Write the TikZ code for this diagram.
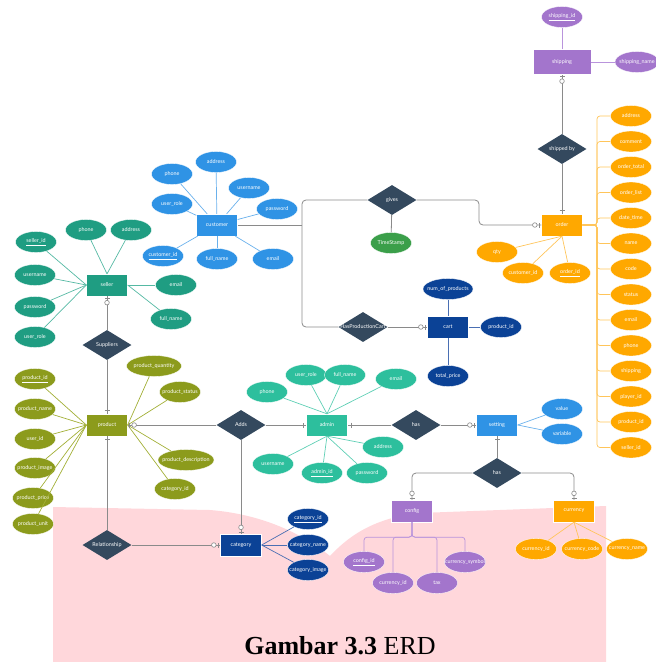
\documentclass[tikz,border=0pt]{standalone}
\usepackage{fontspec}
\setmainfont{Lato}
\newfontfamily\capfont{Liberation Serif}
\usetikzlibrary{shapes.geometric,decorations.markings}

\definecolor{dia}{HTML}{34495E}
\definecolor{linegray}{HTML}{8A8A8A}
\definecolor{purp}{HTML}{A375CC}
\definecolor{purpl}{HTML}{B994DC}
\definecolor{orng}{HTML}{FFA800}
\definecolor{orngl}{HTML}{FFC55A}
\definecolor{blue}{HTML}{2F93E5}
\definecolor{bluel}{HTML}{6AB1EC}
\definecolor{seltl}{HTML}{1F9D82}
\definecolor{seltll}{HTML}{55B9A3}
\definecolor{admtl}{HTML}{2DBF9D}
\definecolor{admtll}{HTML}{5FCFB5}
\definecolor{olive}{HTML}{8C9B1C}
\definecolor{olivel}{HTML}{A2AF36}
\definecolor{navy}{HTML}{0B4296}
\definecolor{navyl}{HTML}{4A6FB3}
\definecolor{tsgreen}{HTML}{3B9F4A}
\definecolor{pinkbg}{HTML}{FFD7DB}

\tikzset{
    lbl/.style={text=white, font=\fontsize{5.4}{6}\selectfont},
    ent/.style={lbl, rectangle, fill=#1, draw=white, line width=0.3pt, minimum width=41pt, minimum height=22pt, inner sep=0pt},
    att/.style={lbl, ellipse, fill=#1, draw=white, line width=0.3pt, minimum width=41pt, minimum height=21pt, inner xsep=-20pt, inner ysep=0pt},
    rel/.style={lbl, diamond, fill=dia, aspect=1.6, minimum width=49pt, minimum height=30pt, inner sep=0pt},
    conn/.style={draw=linegray, line width=0.8pt},
    al/.style={draw=#1, line width=0.7pt},
    one/.style={postaction={decorate, decoration={markings,
        mark=at position -3.5pt with {\draw[linegray, line width=0.6pt] (0pt,-2.5pt) -- (0pt,2.5pt);}}}},
    zo/.style={postaction={decorate, decoration={markings,
        mark=at position -6.5pt with {\draw[linegray, line width=0.6pt, fill=white] (0pt,0pt) circle (2.3pt);},
        mark=at position -2pt with {\draw[linegray, line width=0.6pt] (0pt,-2.5pt) -- (0pt,2.5pt);}}}}
}

\begin{document}
\begin{tikzpicture}[x=1pt,y=-1pt]
    \useasboundingbox (0,0) rectangle (656,662);
    \fill[pinkbg] (53,507) -- (210,510) .. controls (260,514) and (300,532) .. (330,556)
        .. controls (345,540) and (370,518) .. (420,513) -- (606,506) -- (606,662) -- (53,662) -- cycle;

    % entities
    \node[ent=purp, minimum width=58pt, minimum height=25pt] (shipping) at (562,62) {shipping};
    \node[ent=orng] (order) at (562,225) {order};
    \node[ent=blue] (customer) at (217,225) {customer};
    \node[ent=seltl] (seller) at (107,285) {seller};
    \node[ent=navy] (cart) at (448,327) {cart};
    \node[ent=olive] (product) at (107,425) {product};
    \node[ent=admtl] (admin) at (327,425) {admin};
    \node[ent=blue] (setting) at (497,425) {setting};
    \node[ent=purp] (config) at (412,511) {config};
    \node[ent=orng] (currency) at (574,511) {currency};
    \node[ent=navy] (category) at (241,545) {category};

    % relationships
    \node[rel] (shippedby) at (562,149) {shipped by};
    \node[rel] (gives) at (392,200) {gives};
    \node[rel] (hpc) at (363,327) {\makebox[0pt]{HasProductionCart}};
    \node[rel] (suppliers) at (107,345) {Suppliers};
    \node[rel] (adds) at (241,425) {Adds};
    \node[rel] (hasA) at (416,425) {has};
    \node[rel] (hasB) at (497,473) {has};
    \node[rel] (relship) at (107,545) {\makebox[0pt]{Relationship}};
    \node[att=tsgreen] (ts) at (391,243) {TimeStamp};

    % shipping
    \node[att=purp] (shipid) at (562,17) {\underline{shipping\_id}};
    \node[att=purp, minimum width=44pt] (shipname) at (637,62) {shipping\_name};
    \draw[al=purpl] (shipping) -- (shipid);
    \draw[al=purpl] (shipping) -- (shipname);

    % order
    \foreach \n/\t [count=\i from 0] in {ad/address,cm/comment,ot/order\_total,ol/order\_list,dt/date\_time,nm/name,cd/code,st/status,em/email,ph/phone,sh/shipping,pl/player\_id,pr/product\_id,sl/seller\_id}
        \node[att=orng] (o-\n) at (631,116+25.5*\i) {\t};
    \foreach \n in {ad,cm,ot,ol,dt,nm,cd,st,em,ph,sh,pl,pr,sl}
        \draw[al=orngl, rounded corners=3pt] (order.east) -- (597,225) |- (o-\n.west);
    \node[att=orng] (qty) at (497,252) {qty};
    \node[att=orng] (ocust) at (523,273) {customer\_id};
    \node[att=orng] (oid) at (570,273) {\underline{order\_id}};
    \foreach \n in {qty,ocust,oid} \draw[al=orngl] (order.south) -- (\n);

    % customer
    \foreach \n/\t/\x/\y in {ad/address/216/162,ph/phone/172/174,un/username/249/188,ur/user\_role/172/204,pw/password/277/209,id/\underline{customer\_id}/163/256,fn/full\_name/217/259,em/email/273/259}
        {\node[att=blue] (c-\n) at (\x,\y) {\t};
         \draw[al=bluel] (customer) -- (c-\n);}

    % seller
    \foreach \n/\t/\x/\y/\a in {id/\underline{seller\_id}/36/242/west,un/username/35/275/west,pw/password/35/307/west,ur/user\_role/35/337/west,ph/phone/86/230/north,ad/address/131/230/north,em/email/176/285/east,fn/full\_name/171/319/east}
        {\node[att=seltl] (s-\n) at (\x,\y) {\t};
         \draw[al=seltll] (seller.\a) -- (s-\n);}

    % cart
    \node[att=navy, minimum width=50pt] (numprod) at (448,289) {num\_of\_products};
    \node[att=navy] (totprice) at (448,376) {total\_price};
    \node[att=navy] (cprod) at (501,327) {product\_id};
    \foreach \n in {numprod,totprice,cprod} \draw[al=navyl] (cart) -- (\n);

    % product
    \foreach \n/\t/\x/\y/\a in {id/\underline{product\_id}/35/379/west,nm/product\_name/35/409/west,ui/user\_id/35/439/west,im/product\_image/35/468/west,pr/product\_price/33/498/west,un/product\_unit/33/524/west,st/product\_status/180/392/east,ci/category\_id/175/489/east}
        {\node[att=olive] (p-\n) at (\x,\y) {\t};
         \draw[al=olivel] (product.\a) -- (p-\n);}
    \node[att=olive, minimum width=55pt] (p-qt) at (154,366) {product\_quantity};
    \node[att=olive, minimum width=56pt] (p-ds) at (186,460) {product\_description};
    \draw[al=olivel] (product.east) -- (p-qt);
    \draw[al=olivel] (product.east) -- (p-ds);

    % admin
    \foreach \n/\t/\x/\y/\a in {ph/phone/267/392/north,ur/user\_role/306/375/north,fn/full\_name/345/375/north,em/email/396/379/north,ad/address/383/447/south,pw/password/367/473/south,id/\underline{admin\_id}/322/473/south,un/username/273/464/south}
        {\node[att=admtl] (a-\n) at (\x,\y) {\t};
         \draw[al=admtll] (admin.\a) -- (a-\n);}

    % setting
    \node[att=blue] (value) at (562,409) {value};
    \node[att=blue] (variable) at (562,434) {variable};
    \draw[al=bluel] (setting.east) -- (value);
    \draw[al=bluel] (setting.east) -- (variable);

    % config
    \foreach \n/\t/\x/\y in {id/\underline{config\_id}/364/562,cu/currency\_id/393/583,tx/tax/437/583,sy/currency\_symbol/465/562}
        {\node[att=purp] (f-\n) at (\x,\y) {\t};
         \draw[al=purpl, rounded corners=3pt] (config.south) -- ++(0,15) -| (f-\n.north);}

    % currency
    \foreach \n/\t/\x in {id/currency\_id/536,cd/currency\_code/582,nm/currency\_name/627}
        {\node[att=orng] (u-\n) at (\x,549) {\t};
         \draw[al=orngl] (currency.south) -- (u-\n);}

    % category
    \foreach \n/\t/\y in {id/\underline{category\_id}/519,nm/category\_name/545,im/category\_image/570}
        {\node[att=navy] (k-\n) at (308,\y) {\t};
         \draw[al=navyl] (category.east) -- (k-\n);}

    % connectors
    \coordinate (cj) at (302,225);
    \coordinate (gj) at (479,200);
    \draw[conn, zo] (shippedby) -- (shipping);
    \draw[conn, one] (shippedby) -- (order);
    \draw[conn] (gives) -- (ts);
    \draw[conn] (customer) -- (cj);
    \draw[conn, rounded corners=4pt] (gives) -| (cj) |- (hpc);
    \draw[conn, rounded corners=4pt, zo] (gives) -- (gj) |- (order);
    \draw[conn, zo] (hpc) -- (cart);
    \draw[conn, zo] (suppliers) -- (seller);
    \draw[conn, one] (suppliers) -- (product);
    \draw[conn, zo] (adds) -- (product);
    \draw[conn, one] (adds) -- (admin);
    \draw[conn, zo] (adds) -- (category);
    \draw[conn, one] (relship) -- (product);
    \draw[conn, zo] (relship) -- (category);
    \draw[conn, one] (hasA) -- (admin);
    \draw[conn, zo] (hasA) -- (setting);
    \draw[conn, one] (hasB) -- (setting);
    \draw[conn, rounded corners=4pt, zo] (hasB) -| (config);
    \draw[conn, rounded corners=4pt, zo] (hasB) -| (currency);

    \node (caption) at (340,646) {\capfont\fontsize{26}{28}\selectfont\textbf{Gambar 3.3} ERD};
\end{tikzpicture}
\end{document}
